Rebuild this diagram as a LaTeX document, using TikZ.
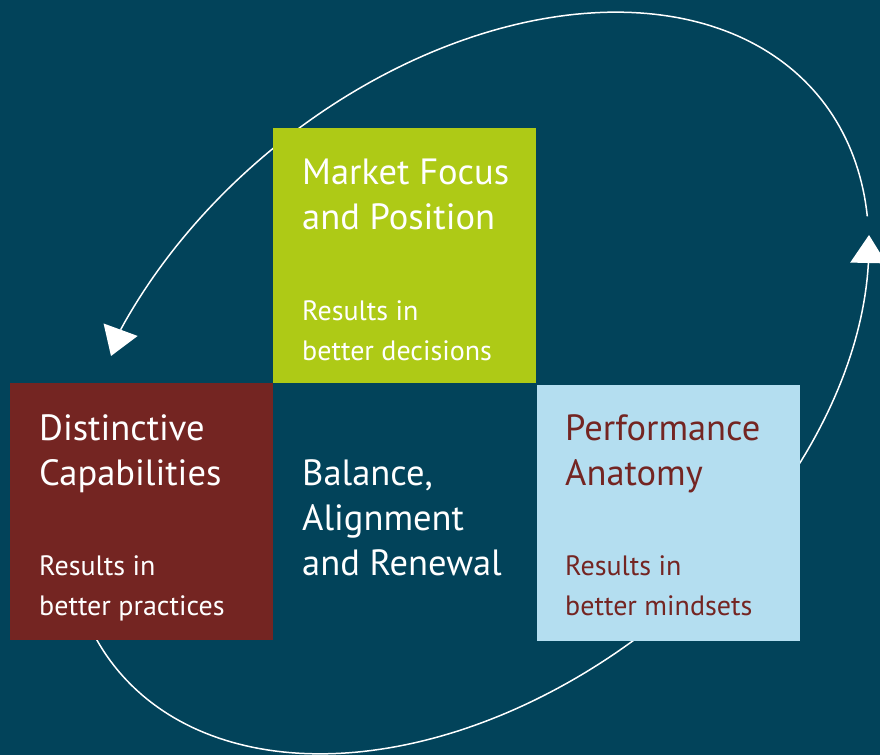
\documentclass[tikz,border=0pt]{standalone}
\usepackage{fontspec}
\setmainfont{PT Sans}
\usetikzlibrary{arrows.meta}
\definecolor{bg}{HTML}{02435A}
\definecolor{lime}{HTML}{AECA16}
\definecolor{maroon}{HTML}{742522}
\definecolor{sky}{HTML}{B4DEF0}
\tikzset{
  box/.style={anchor=north west, inner sep=0pt, outer sep=0pt},
  title/.style={anchor=base west, align=left, inner sep=0pt, font=\fontsize{36.5}{45}\selectfont},
  sub/.style={anchor=base west, align=left, inner sep=0pt, font=\fontsize{28}{40}\selectfont},
  loopline/.style={draw=white, line width=1.5pt},
  looparrow/.style={draw=white, line width=1.5pt, -{Triangle[length=28pt,width=36pt,fill=white]}},
}
% ellipse: centre (468,383), semi-axes 453 and 305, tilted
\newcommand{\ex}[1]{468+351.85*cos(#1)+192.12*sin(#1)}
\newcommand{\ey}[1]{383-285.34*cos(#1)+236.89*sin(#1)}
\begin{document}
\begin{tikzpicture}[x=1pt,y=-1pt]
\fill[bg] (0,0) rectangle (880,755);
\useasboundingbox (0,0) rectangle (880,755);
% loop
\coordinate (aBase) at ({\ex{-121.4}},{\ey{-121.4}});
\coordinate (aTip) at (111,356);
\coordinate (bBase) at ({\ex{31.6}},{\ey{31.6}});
\coordinate (bTip) at (869,235);
\draw[loopline] plot[domain=23.6:-121.4, samples=120, variable=\t] ({\ex{\t}},{\ey{\t}});
\draw[looparrow] (aBase) -- (aTip);
\draw[loopline] plot[domain=215:31.6, samples=150, variable=\t] ({\ex{\t}},{\ey{\t}});
\draw[looparrow] (bBase) -- (bTip);
% boxes
\node[box, fill=lime, minimum width=263pt, minimum height=255pt] (mkt) at (273,128) {};
\node[box, fill=maroon, minimum width=263pt, minimum height=257pt] (cap) at (10,383) {};
\node[box, fill=sky, minimum width=263pt, minimum height=256pt] (perf) at (537,385) {};
% texts (anchor = baseline of last line)
\node[title, text=white] (mktT) at (302,229) {Market Focus\\and Position};
\node[sub, text=white] (mktS) at (302,360) {Results in\\better decisions};
\node[title, text=white] (capT) at (39,485) {Distinctive\\Capabilities};
\node[sub, text=white] (capS) at (39,615) {Results in\\better practices};
\node[title, text=maroon] (perfT) at (565,485) {Performance\\Anatomy};
\node[sub, text=maroon] (perfS) at (565,615) {Results in\\better mindsets};
\node[title, text=white] (bal) at (302,575) {Balance,\\Alignment\\and Renewal};
\end{tikzpicture}
\end{document}
